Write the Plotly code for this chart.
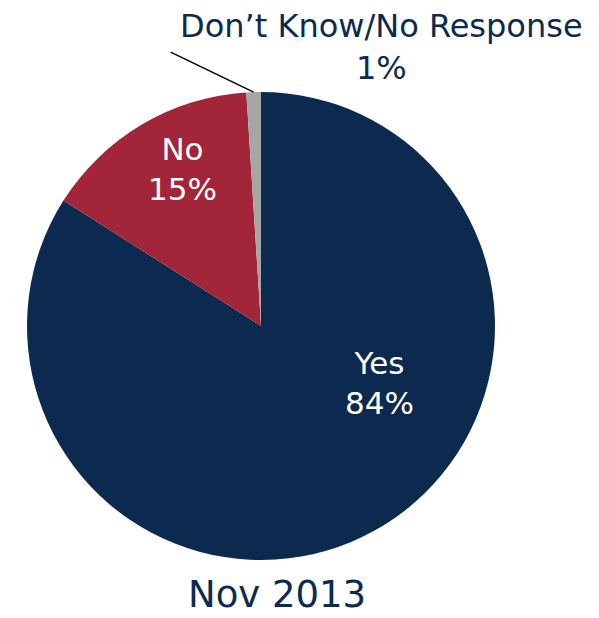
import math
import plotly.graph_objects as go

labels = ["Yes", "No", "Don\u2019t Know/No Response"]
values = [84, 15, 1]
colors = ["#0C2A4F", "#A2253A", "#A6A6A6"]
title_text = "Nov 2013"
navy = "#0C2A4F"
font_family = "DejaVu Sans"

W, H = 599, 618
OFF = 8  # page body margin in the browser
ml, mt = 27 - OFF, 92 - OFF
mr, mb = W - ml - 468, H - mt - 468

fig = go.Figure(go.Pie(
    labels=labels, values=values, sort=False, direction="clockwise", rotation=0,
    marker=dict(colors=colors, line=dict(width=0)),
    textinfo="none", hoverinfo="label+percent", showlegend=False,
))

# leader line for the small slice, derived from its angular midpoint
total = sum(values)
mid_frac = (sum(values[:2]) + values[2] / 2) / total
ang = mid_frac * 2 * math.pi
pw, ph = W - ml - mr, H - mt - mb
R = min(pw, ph) / 2
x0 = 0.5 + R * math.sin(ang) / pw
y0 = 0.5 + R * math.cos(ang) / ph
fig.add_shape(type="line", xref="paper", yref="paper",
              x0=x0, y0=y0, x1=x0 - 83 / pw, y1=y0 + 40 / ph,
              line=dict(color="black", width=1.5))

label_pos = [(0.754, 0.378), (0.333, 0.835)]
for lab, val, (lx, ly) in zip(labels[:2], values[:2], label_pos):
    fig.add_annotation(text=f"{lab}<br>{val}%", xref="paper", yref="paper",
                       x=lx, y=ly, xanchor="center", yanchor="middle", showarrow=False,
                       font=dict(family=font_family, size=31, color="white"))

fig.add_annotation(text=f"{labels[2]}<br>{values[2]}%", xref="paper", yref="paper",
                   x=0.758, y=1.097, xanchor="center", yanchor="middle", showarrow=False,
                   font=dict(family=font_family, size=32, color=navy))
fig.add_annotation(text=title_text, xref="paper", yref="paper",
                   x=0.534, y=-0.0737, xanchor="center", yanchor="middle", showarrow=False,
                   font=dict(family=font_family, size=37, color=navy))

fig.update_layout(width=W, height=H, margin=dict(l=ml, r=mr, t=mt, b=mb),
                  paper_bgcolor="white", plot_bgcolor="white")
fig.write_html("out.html")
